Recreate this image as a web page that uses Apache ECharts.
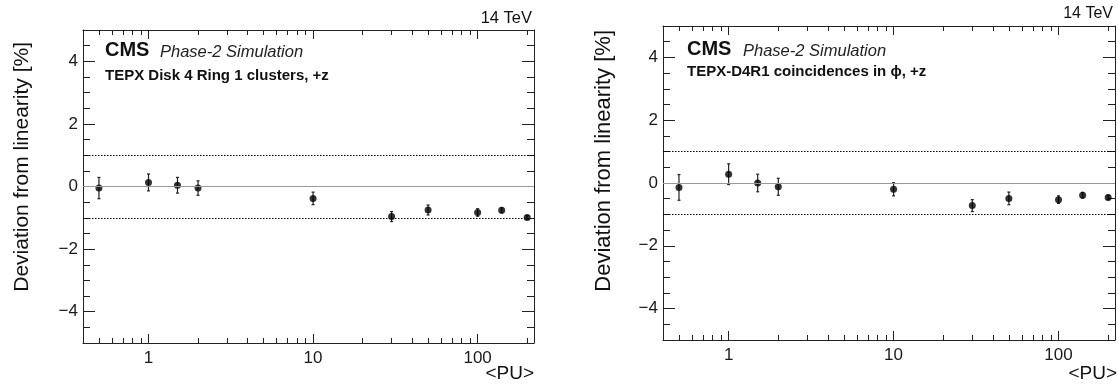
<!DOCTYPE html>
<html><head><meta charset="utf-8">
<script src="https://cdn.jsdelivr.net/npm/echarts@6/dist/echarts.min.js"></script>
<style>html,body{margin:0;padding:0;background:#fff}#c{width:1118px;height:387px}</style>
</head><body><div id="c"></div>
<script>
// ---- data ----
const pu = [0.5, 1, 1.5, 2, 10, 30, 50, 100, 140, 200];
const devClusters = [-0.05, 0.13, 0.04, -0.05, -0.38, -0.96, -0.75, -0.83, -0.76, -0.99];
const errClusters = [0.34, 0.27, 0.25, 0.23, 0.20, 0.16, 0.16, 0.12, 0.08, 0.06];
const devCoinc = [-0.14, 0.28, 0.00, -0.12, -0.20, -0.72, -0.49, -0.53, -0.39, -0.46];
const errCoinc = [0.41, 0.33, 0.28, 0.27, 0.21, 0.19, 0.20, 0.12, 0.09, 0.07];
const xMajorTicks = [1, 10, 100];
const xMinorTicks = [0.5, 0.6, 0.7, 0.8, 0.9, 2, 3, 4, 5, 6, 7, 8, 9, 20, 30, 40, 50, 60, 70, 80, 90, 200];
const yMajorTicks = [-4, -2, 0, 2, 4];
const yMinorTicks = [-4.5, -3.5, -3, -2.5, -1.5, -1, -0.5, 0.5, 1, 1.5, 2.5, 3, 3.5, 4.5];
const solidRefLines = [0];
const dottedRefLines = [-1, 1];
const panelTitles = ['TEPX Disk 4 Ring 1 clusters, +z', 'TEPX-D4R1 coincidences in \u03D5, +z'];
const yTitle = 'Deviation from linearity [%]';
const xTitle = '<PU>';
const energyLabel = '14 TeV';

// ---- layout ----
const FONT = '"Liberation Sans", Arial, Helvetica, sans-serif';
const AX = '#222';
const grids = [
  {left: 83, top: 30, width: 451, height: 313},
  {left: 663, top: 26, width: 452, height: 314}
];

const xAxes = [], yAxes = [], series = [];
const lineStyle = {color: AX, width: 1};

grids.forEach((g, gi) => {
  const xb = xAxes.length, yb = yAxes.length;
  const xCommon = {gridIndex: gi, type: 'log', logBase: 10, min: 0.4, max: 220, splitLine: {show: false}, minorTick: {show: false}};
  xAxes.push(Object.assign({}, xCommon, {position: 'bottom',
    axisLine: {show: true, onZero: false, lineStyle},
    axisTick: {show: true, inside: true, length: 9, customValues: xMajorTicks, lineStyle},
    axisLabel: {show: true, customValues: xMajorTicks, fontSize: 17, fontFamily: FONT, color: '#1a1a1a', margin: 7,
      formatter: v => String(v)}}));
  xAxes.push(Object.assign({}, xCommon, {position: 'bottom',
    axisLine: {show: false, onZero: false},
    axisTick: {show: true, inside: true, length: 5, customValues: xMinorTicks, lineStyle},
    axisLabel: {show: false}}));
  xAxes.push(Object.assign({}, xCommon, {position: 'top',
    axisLine: {show: true, onZero: false, lineStyle},
    axisTick: {show: true, inside: true, length: 9, customValues: xMajorTicks, lineStyle},
    axisLabel: {show: false}}));
  xAxes.push(Object.assign({}, xCommon, {position: 'top',
    axisLine: {show: false, onZero: false},
    axisTick: {show: true, inside: true, length: 5, customValues: xMinorTicks, lineStyle},
    axisLabel: {show: false}}));

  const yCommon = {gridIndex: gi, type: 'value', min: -5, max: 5, splitLine: {show: false}};
  yAxes.push(Object.assign({}, yCommon, {position: 'left',
    axisLine: {show: true, onZero: false, lineStyle},
    axisTick: {show: true, inside: true, length: 12, customValues: yMajorTicks, lineStyle},
    axisLabel: {show: true, customValues: yMajorTicks, fontSize: 17, fontFamily: FONT, color: '#1a1a1a', margin: 5,
      formatter: v => (v < 0 ? '\u2212' + Math.abs(v) : String(v))}}));
  yAxes.push(Object.assign({}, yCommon, {position: 'left',
    axisLine: {show: false, onZero: false},
    axisTick: {show: true, inside: true, length: 7, customValues: yMinorTicks, lineStyle},
    axisLabel: {show: false}}));
  yAxes.push(Object.assign({}, yCommon, {position: 'right',
    axisLine: {show: true, onZero: false, lineStyle},
    axisTick: {show: true, inside: true, length: 12, customValues: yMajorTicks, lineStyle},
    axisLabel: {show: false}}));
  yAxes.push(Object.assign({}, yCommon, {position: 'right',
    axisLine: {show: false, onZero: false},
    axisTick: {show: true, inside: true, length: 7, customValues: yMinorTicks, lineStyle},
    axisLabel: {show: false}}));

  const dev = gi === 0 ? devClusters : devCoinc;
  const err = gi === 0 ? errClusters : errCoinc;
  const pts = pu.map((p, i) => [p, dev[i], err[i]]);

  series.push({
    type: 'custom', xAxisIndex: xb, yAxisIndex: yb, z: 3, silent: true,
    encode: {x: 0, y: 1},
    data: pts,
    renderItem: function (params, api) {
      const x = api.value(0), y = api.value(1), e = api.value(2);
      const t = api.coord([x, y + e]), b = api.coord([x, y - e]);
      const st = {stroke: '#222', lineWidth: 1.2};
      const c = 1.5;
      return {type: 'group', children: [
        {type: 'line', shape: {x1: t[0], y1: t[1], x2: b[0], y2: b[1]}, style: st},
        {type: 'line', shape: {x1: t[0] - c, y1: t[1], x2: t[0] + c, y2: t[1]}, style: st},
        {type: 'line', shape: {x1: b[0] - c, y1: b[1], x2: b[0] + c, y2: b[1]}, style: st}
      ]};
    }
  });
  series.push({
    type: 'scatter', xAxisIndex: xb, yAxisIndex: yb, z: 4, silent: true,
    symbol: 'circle', symbolSize: 7,
    itemStyle: {color: '#000'},
    data: pts.map(d => [d[0], d[1]]),
    markLine: {
      silent: true, symbol: ['none', 'none'], label: {show: false}, animation: false,
      data: solidRefLines.map(v => ({yAxis: v, lineStyle: {color: '#999', width: 1, type: 'solid'}}))
        .concat(dottedRefLines.map(v => ({yAxis: v, lineStyle: {color: '#000', width: 1.2, type: [1.5, 1.5]}})))
    }
  });
});

const txt = (x, y, text, size, opts) => Object.assign({
  type: 'text', x, y, silent: true,
  style: Object.assign({text, fontSize: size, fontFamily: FONT, fill: '#111', textVerticalAlign: 'middle'}, opts || {})
});

const graphics = [
  // left panel
  txt(532, 18.5, energyLabel, 16.5, {textAlign: 'right'}),
  txt(105, 50.5, 'CMS', 20, {fontWeight: 'bold'}),
  txt(160, 52, 'Phase-2 Simulation', 16.5, {fontStyle: 'italic', fill: '#222'}),
  txt(105, 76, panelTitles[0], 15, {fontWeight: 'bold'}),
  txt(534, 374, xTitle, 19, {textAlign: 'right'}),
  Object.assign(txt(22, 42, yTitle, 21, {textAlign: 'right'}), {rotation: Math.PI / 2}),
  // right panel
  txt(1113, 14, energyLabel, 16, {textAlign: 'right'}),
  txt(687, 49, 'CMS', 20, {fontWeight: 'bold'}),
  txt(743, 51, 'Phase-2 Simulation', 16.5, {fontStyle: 'italic', fill: '#222'}),
  txt(687, 72, panelTitles[1], 15, {fontWeight: 'bold'}),
  txt(1117, 374, xTitle, 19, {textAlign: 'right'}),
  Object.assign(txt(604, 30, yTitle, 22, {textAlign: 'right'}), {rotation: Math.PI / 2})
];

const chart = echarts.init(document.getElementById('c'), null, {renderer: 'canvas'});
chart.setOption({
  animation: false,
  backgroundColor: '#fff',
  grid: grids.map(g => Object.assign({containLabel: false}, g)),
  xAxis: xAxes,
  yAxis: yAxes,
  series: series,
  graphic: graphics
});
</script>
</body></html>
